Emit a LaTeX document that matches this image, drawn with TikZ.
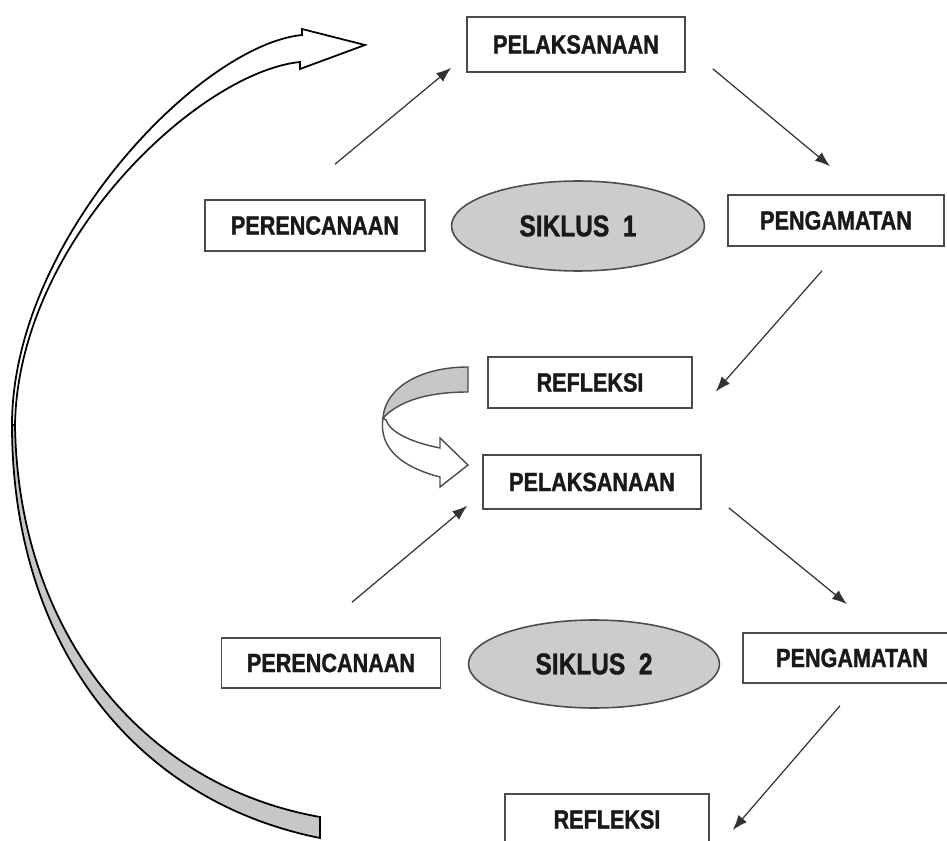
\documentclass[tikz,border=0pt]{standalone}
\usepackage{fontspec}
\setmainfont{Liberation Sans}
\newfontfamily\boxfont{Liberation Sans}[FakeStretch=0.82, BoldFeatures={FakeBold=1.2}]
\usepackage{tikz}
\usetikzlibrary{positioning,shapes.geometric,arrows.meta,calc}

\tikzset{
    stage/.style={draw=black!70, line width=0.9pt, fill=white, text=black!90,
        font=\boxfont\bfseries\fontsize{15}{18}\selectfont, inner sep=0pt},
    siklus/.style={ellipse, draw=black!70, line width=0.9pt, fill=black!20, text=black!90,
        font=\boxfont\bfseries\fontsize{17}{20}\selectfont, inner sep=0pt},
    link/.style={draw=black!80, line width=0.7pt, -{Latex[length=3mm,width=2.2mm]}},
    bigarrow/.style={draw=black, line width=1pt, line join=miter},
}

\begin{document}
\begin{tikzpicture}[x=0.02cm, y=-0.02cm]
    \useasboundingbox (0,0) rectangle (947,841);

    % cycle 1
    \node[stage, minimum width=4.36cm, minimum height=1.1cm] (pel1) at (576,44.5) {PELAKSANAAN};
    \node[stage, minimum width=4.4cm, minimum height=1.02cm] (per1) at (315,225.5) {PERENCANAAN};
    \node[siklus, minimum width=5.06cm, minimum height=1.8cm] (sik1) at (578,226) {SIKLUS\ \ 1};
    \node[stage, minimum width=4.32cm, minimum height=1.02cm] (pen1) at (836,220.5) {PENGAMATAN};
    \node[stage, minimum width=4.08cm, minimum height=1.02cm] (ref1) at (590,382.5) {REFLEKSI};

    % cycle 2
    \node[stage, minimum width=4.36cm, minimum height=1.08cm] (pel2) at (592,482) {PELAKSANAAN};
    \node[stage, minimum width=4.38cm, minimum height=1.0cm] (per2) at (331,663) {PERENCANAAN};
    \node[siklus, minimum width=5.02cm, minimum height=1.76cm] (sik2) at (594,664) {SIKLUS\ \ 2};
    \node[stage, minimum width=4.36cm, minimum height=1.0cm] (pen2) at (852,658) {PENGAMATAN};
    \node[stage, minimum width=4.08cm, minimum height=1.02cm] (ref2) at (607,819.5) {REFLEKSI};

    \draw[link] ([shift={(20,-35)}]per1.north) -- ([shift={(-15,-5)}]pel1.south west);
    \draw[link] ([shift={(27,-4)}]pel1.south east) -- ([shift={(-6,-28)}]pen1.north);
    \draw[link] ([shift={(-14,24)}]pen1.south) -- ([shift={(23,9)}]ref1.east);

    \draw[link] ([shift={(21,-35)}]per2.north) -- ([shift={(-15,-4)}]pel2.south west);
    \draw[link] ([shift={(27,-2)}]pel2.south east) -- ([shift={(-5,-28)}]pen2.north);
    \draw[link] ([shift={(-12,22)}]pen2.south) -- ([shift={(23,10.5)}]ref2.east);

    % small turn arrow from refleksi to pelaksanaan
    \draw[draw=black!70, line width=0.8pt, fill=black!22]
        (468,367) .. controls (420,367) and (385,388) .. (383,418)
        .. controls (400,400) and (430,392) .. (468,392) -- cycle;
    \draw[draw=black!70, line width=0.8pt, fill=white, line join=miter]
        (383,418) .. controls (378,450) and (405,468) .. (440,477)
        -- (440,487) -- (468,465) -- (440,438) -- (440,448)
        .. controls (410,442) and (390,432) .. (386,420) -- cycle;

    % big return arrow
    \draw[bigarrow, fill=black!22]
        (12,425) .. controls (12,640) and (130,800) .. (320,838)
        -- (320,817) .. controls (140,785) and (18,630) .. (15,425) -- cycle;
    \draw[bigarrow, fill=white]
        (302,35) -- (302,29) -- (365,45) -- (300,69) -- (300,62)
        .. controls (200,72) and (18,240) .. (15,425)
        -- (12,425) .. controls (12,240) and (200,45) .. (302,35) -- cycle;
\end{tikzpicture}
\end{document}
